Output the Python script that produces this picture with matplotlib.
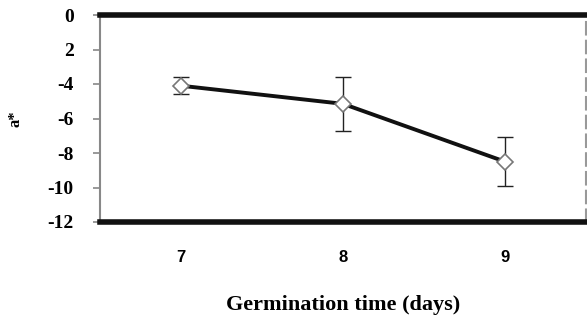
import matplotlib.pyplot as plt

# germination time (days) and a* colour value
days = ['7', '8', '9']
a_star = [-4.1, -5.15, -8.5]
a_err = [0.48, 1.55, 1.4]
ytick_vals = [0, -2, -4, -6, -8, -10, -12]
ytick_labels = ['0', '2', '-4', '-6', '-8', '-10', '-12']

fig = plt.figure(figsize=(5.87, 3.2), dpi=100)
ax = fig.add_axes([100 / 587, 1 - 222 / 320, 486 / 587, 207 / 320])

x = range(len(days))
ax.errorbar(x, a_star, yerr=a_err, fmt='none', ecolor='#222222',
            elinewidth=1.0, capsize=6, capthick=1.0, zorder=2)
ax.plot(x, a_star, color='#111111', lw=2.8, zorder=3)
ax.plot(x, a_star, ls='none', marker='D', ms=8, mfc='white',
        mec='#777777', mew=1.2, zorder=4)

ax.set_xlim(-0.5, 2.5)
ax.set_ylim(-12, 0)
ax.set_xticks(list(x))
ax.set_xticklabels(days, fontfamily='Liberation Sans', fontweight='bold',
                   fontsize=12)
ax.set_yticks(ytick_vals)
ax.set_yticklabels(ytick_labels, fontfamily='Liberation Serif',
                   fontweight='bold', fontsize=14)
ax.tick_params(axis='x', length=0, pad=20)
ax.tick_params(axis='y', length=5, width=1.2, color='#888888', pad=14)

ax.spines['top'].set_linewidth(4)
ax.spines['bottom'].set_linewidth(4)
ax.spines['top'].set_color('#111111')
ax.spines['bottom'].set_color('#111111')
ax.spines['left'].set_linewidth(1.5)
ax.spines['left'].set_color('#888888')
ax.spines['right'].set_linewidth(1.5)
ax.spines['right'].set_color('#999999')
ax.spines['right'].set_linestyle((0, (6, 3)))

ax.set_xlabel('Germination time (days)', fontfamily='Liberation Serif',
              fontweight='bold', fontsize=16, labelpad=22)
ax.set_ylabel('a*', fontfamily='Liberation Serif', fontweight='bold',
              fontsize=12)
ax.yaxis.set_label_coords(-76 / 486, 0.5)

fig.savefig('out.png', dpi=100)
